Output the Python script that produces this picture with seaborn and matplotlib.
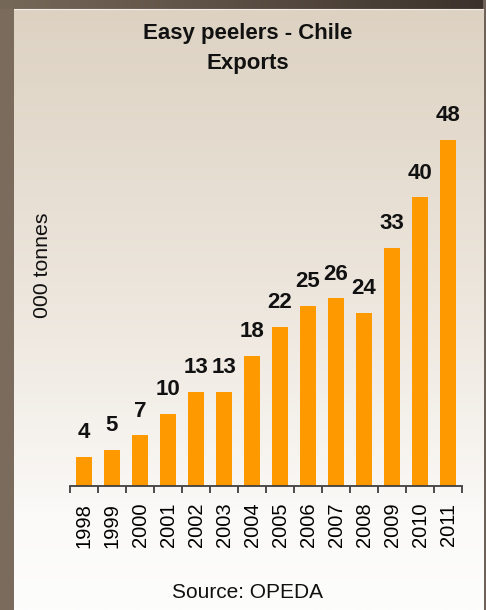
import numpy as np
import pandas as pd
import matplotlib
matplotlib.use("Agg")
import matplotlib.pyplot as plt
from matplotlib.colors import LinearSegmentedColormap
from matplotlib.ticker import FixedLocator
import seaborn as sns

# Chilean easy-peeler exports, thousand tonnes
years = ["1998", "1999", "2000", "2001", "2002", "2003", "2004",
         "2005", "2006", "2007", "2008", "2009", "2010", "2011"]
exports = [4, 5, 7, 10, 13, 13, 18, 22, 25, 26, 24, 33, 40, 48]

title_lines = ["Easy peelers - Chile", "Exports"]
y_label = "000 tonnes"
source_note = "Source: OPEDA"

sns.set_theme(style="white")
plt.rcParams["font.family"] = ["Liberation Sans", "DejaVu Sans"]

W, H = 486, 610
fig = plt.figure(figsize=(W / 100, H / 100), dpi=100)
fig.patch.set_facecolor("#7a6b5d")

# Frame and panel backdrop drawn in pixel coordinates
bg = fig.add_axes([0, 0, 1, 1], zorder=0)
bg.set_xlim(0, W)
bg.set_ylim(H, 0)
bg.axis("off")

# dark band along the top, darker towards the right
top_cmap = LinearSegmentedColormap.from_list("top", ["#766859", "#5a4e43", "#3c322b"])
bg.imshow(np.linspace(0, 1, 256)[None, :], cmap=top_cmap, aspect="auto",
          extent=(0, W, 9, 0), zorder=0)
# thin shadow on the right edge
bg.add_patch(plt.Rectangle((483, 0), 3, H, color="#6e6258", lw=0, zorder=1))

# cream panel fading to white towards the bottom
panel_cmap = LinearSegmentedColormap.from_list(
    "panel", [(0.0, "#ddd2c2"), (0.55, "#efe9e1"), (0.85, "#fbfaf8"), (1.0, "#fdfdfc")])
bg.imshow(np.linspace(0, 1, 256)[:, None], cmap=panel_cmap, aspect="auto",
          extent=(14, 483, H, 9), zorder=2)
bg.plot([14, 483], [9, 9], color="#f3efe8", lw=0.8, zorder=3)

# Bar chart area
ax_left, ax_right = 70, 462
ax_top, ax_base = 100, 486
ax = fig.add_axes([ax_left / W, (H - ax_base) / H,
                   (ax_right - ax_left) / W, (ax_base - ax_top) / H], zorder=2)
ax.patch.set_alpha(0)

df = pd.DataFrame({"year": years, "exports": exports})
sns.barplot(data=df, x="year", y="exports", color="#ff9900", saturation=1,
            width=0.6, linewidth=0, ax=ax)

ax.set_xlim(-0.5, len(years) - 0.5)
ax.set_ylim(0, 53.5)
ax.set_xlabel("")
ax.set_ylabel("")
ax.set_yticks([])

for side in ("top", "right", "left"):
    ax.spines[side].set_visible(False)
ax.spines["bottom"].set_color("#404040")
ax.spines["bottom"].set_linewidth(1.3)

# labels centred under bars, tick marks on the category boundaries
ax.tick_params(axis="x", which="major", length=0, pad=12,
               labelsize=14.5, labelrotation=90, labelcolor="#000000")
ax.xaxis.set_minor_locator(FixedLocator(np.arange(-0.5, len(years), 1.0)))
ax.tick_params(axis="x", which="minor", bottom=True, length=5, width=1.3,
               color="#404040", direction="out")

for cont in ax.containers:
    ax.bar_label(cont, labels=[str(v) for v in exports], padding=10,
                 fontsize=16, fontweight="bold", color="#111111")

# Titles and notes
fig.text(248 / W, 1 - 33 / H, title_lines[0], ha="center", va="center",
         fontsize=16, fontweight="bold", color="#111111")
fig.text(248 / W, 1 - 63 / H, title_lines[1], ha="center", va="center",
         fontsize=16, fontweight="bold", color="#111111")
fig.text(43 / W, 1 - 265 / H, y_label, ha="center", va="center",
         rotation=90, fontsize=15.3, color="#111111")
fig.text(247 / W, 1 - 592 / H, source_note, ha="center", va="center",
         fontsize=15, color="#111111")

fig.savefig("out.png", dpi=100, facecolor=fig.get_facecolor())
